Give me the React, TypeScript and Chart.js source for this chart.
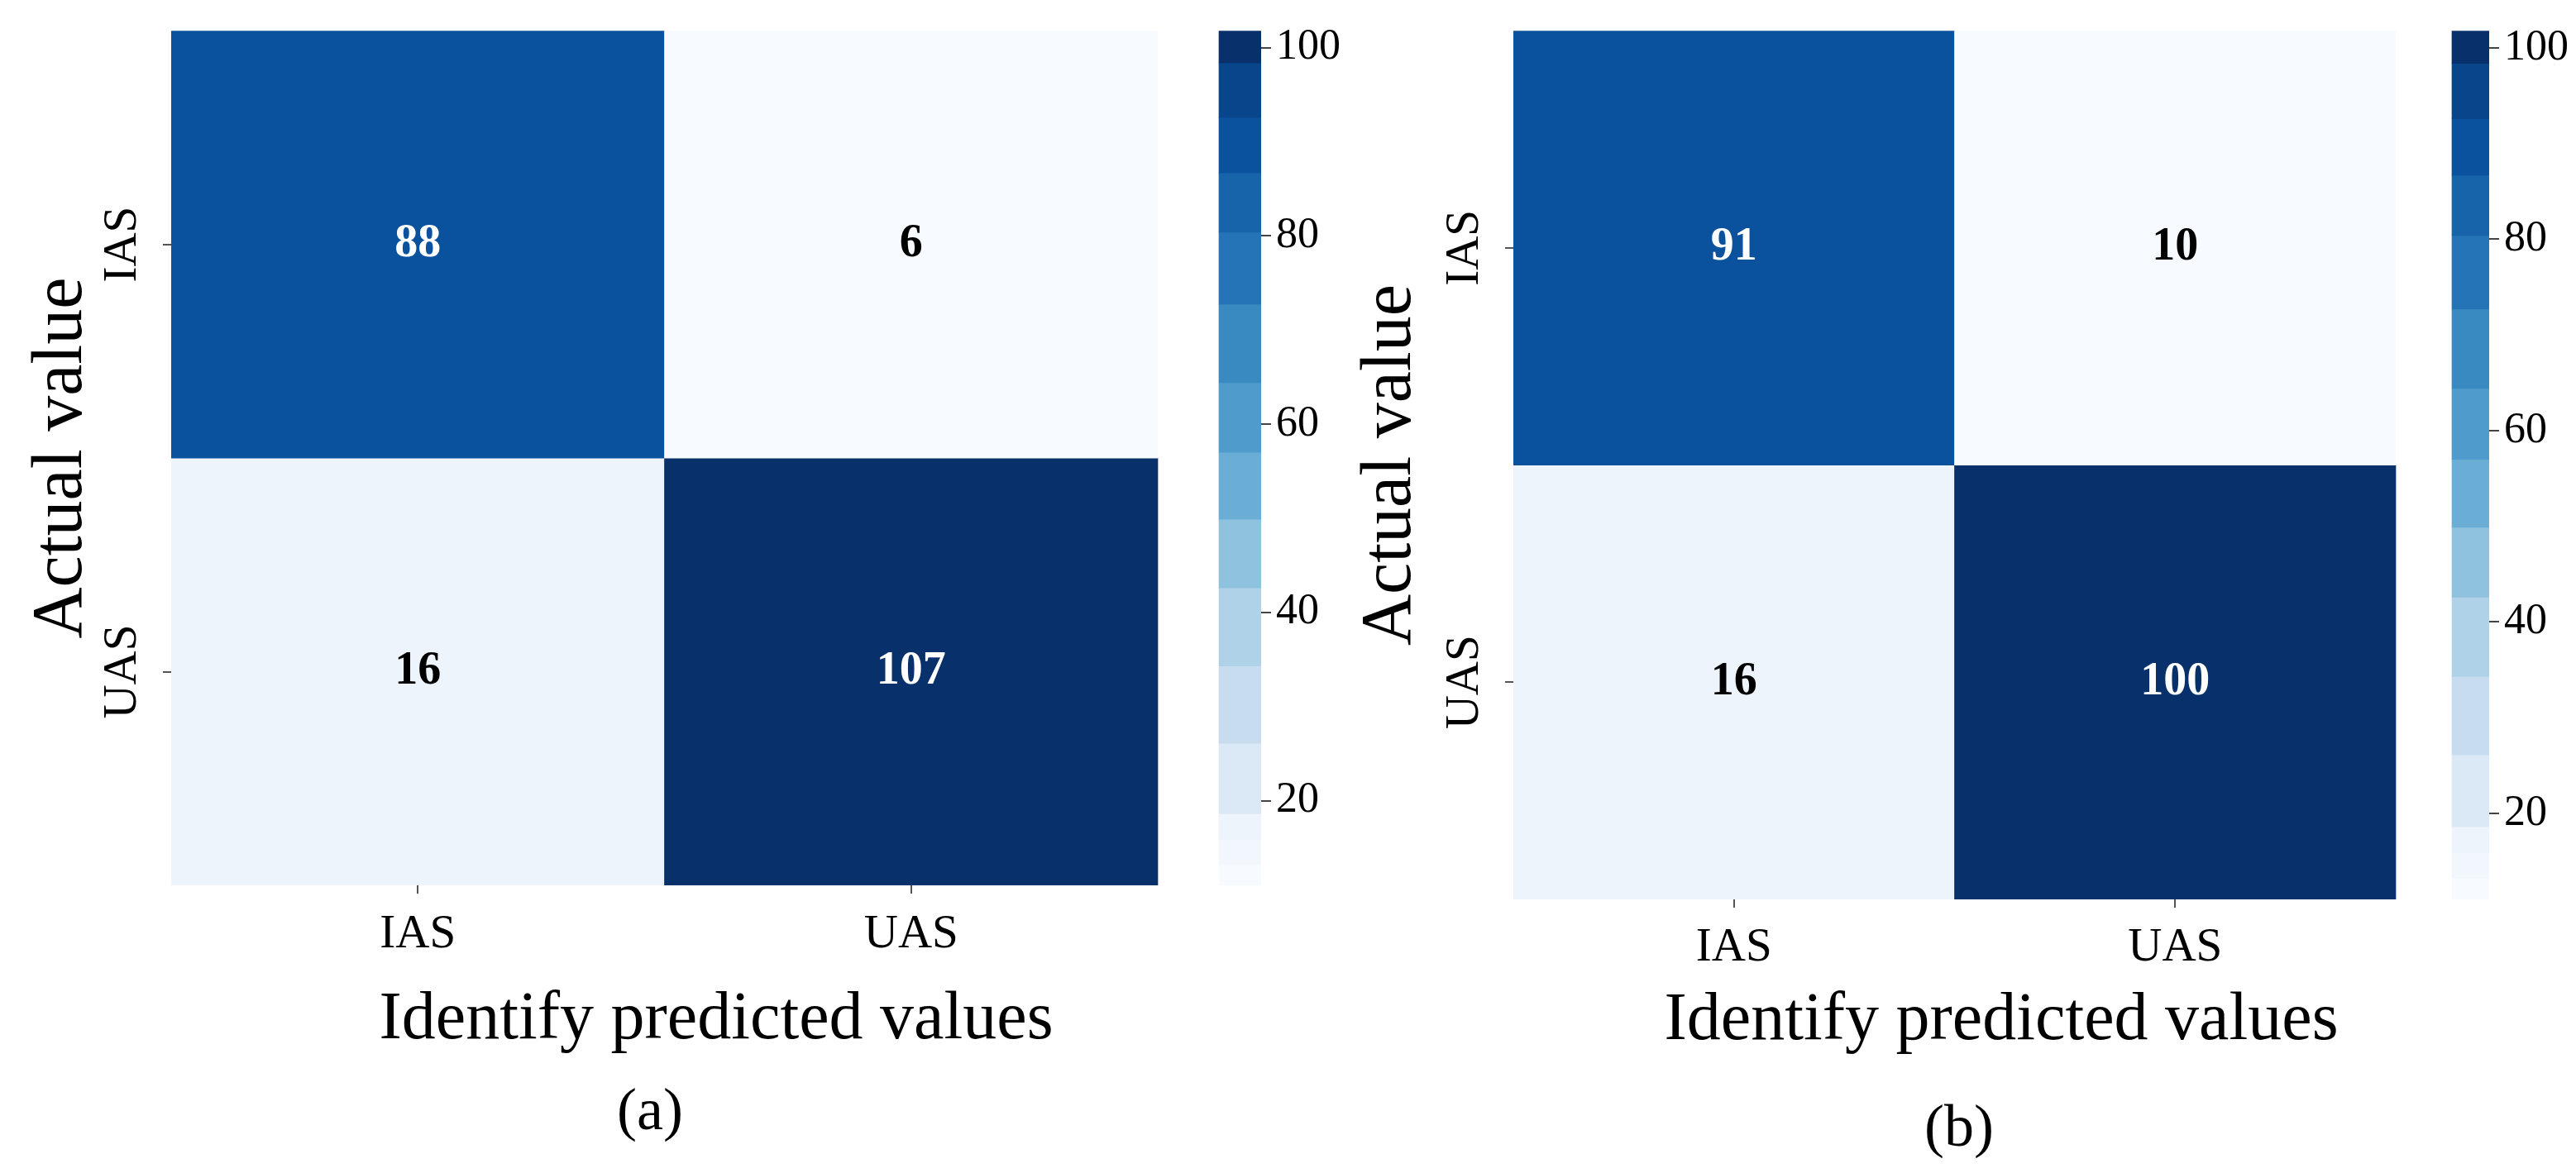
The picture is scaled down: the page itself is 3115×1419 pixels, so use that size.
import React, { useEffect, useRef } from 'react';
import { Chart, registerables } from 'chart.js';

Chart.register(...registerables);

// ---------------- data ----------------
const CLASS_LABELS = ['IAS', 'UAS'];
const MATRIX_A = [
  [88, 6],
  [16, 107],
];
const MATRIX_B = [
  [91, 10],
  [16, 100],
];
const CB_TICKS = [20, 40, 60, 80, 100];
// colour-bar band edges (bottom -> top) and the band colours between them
const CB_EDGES = [11, 13.2, 15.9, 18.6, 26.1, 34.3, 42.6, 49.9, 57.0, 64.4, 72.7, 80.4, 86.7, 92.6, 98.4, 101.8];
const CB_COLORS = [
  '#f7fbff', '#f1f7fd', '#eef4fb', '#dbe9f6', '#c8dcf0', '#b0d2e8', '#8fc2de',
  '#6aaed6', '#4f9bcb', '#3a8ac2', '#2474b7', '#1764ab', '#0a529d', '#08458a', '#08306b',
];
const X_TITLE = 'Identify predicted values';
const Y_TITLE = 'Actual value';
const CAPTION_A = '(a)';
const CAPTION_B = '(b)';

// ---------------- style ----------------
const SERIF = '"Liberation Serif", "Times New Roman", serif';
const TICK_FONT = 57;
const X_TITLE_FONT = 82;
const Y_TITLE_FONT = 86;
const CAPTION_FONT = 72;
const CB_FONT = 52;
const CELL_FONT = 56;
const LH = 1.2;
const H = 1419;

interface PanelLayout {
  left: number;
  width: number;
  areaLeft: number;
  areaRight: number;
  areaTop: number;
  areaBottom: number;
  heatRight: number;
  cbWidth: number;
  yTitlePad: number;
  yTickPad: number;
  xTickPad: number;
  xTitleY: number;
  captionY: number;
}

const LAYOUT_A: PanelLayout = {
  left: -88, width: 1748,
  areaLeft: 207, areaRight: 1525, areaTop: 32, areaBottom: 1071,
  heatRight: 1400, cbWidth: 51,
  yTitlePad: 112, yTickPad: -9, xTickPad: 16,
  xTitleY: 1234, captionY: 1347,
};
const LAYOUT_B: PanelLayout = {
  left: 1623, width: 1492,
  areaLeft: 1830, areaRight: 3010, areaTop: 32, areaBottom: 1088,
  heatRight: 2897, cbWidth: 45,
  yTitlePad: 8, yTickPad: -9, xTickPad: 15,
  xTitleY: 1235, captionY: 1367,
};

function colorFor(v: number): string {
  for (let i = 0; i < CB_COLORS.length; i++) {
    if (v < CB_EDGES[i + 1]) return CB_COLORS[i];
  }
  return CB_COLORS[CB_COLORS.length - 1];
}

function Panel({ matrix, caption, L }: { matrix: number[][]; caption: string; L: PanelLayout }) {
  const ref = useRef<HTMLCanvasElement | null>(null);

  useEffect(() => {
    if (!ref.current) return;
    const areaW = L.areaRight - L.areaLeft;
    const cellW = (L.heatRight - L.areaLeft) / CLASS_LABELS.length;
    const xMax = -0.5 + areaW / cellW;
    const cbX = 1 - L.cbWidth / 2 / areaW;

    const captionLH = CAPTION_FONT * LH;
    const captionPadBottom = H - L.captionY - captionLH / 2;
    const captionTop = H - captionPadBottom - captionLH;
    const xAxisHeight = captionTop - L.areaBottom;
    const xTitlePadBottom = captionTop - L.xTitleY - (X_TITLE_FONT * LH) / 2;

    const heatSets = matrix.map((row, r) => ({
      type: 'bar' as const,
      label: CLASS_LABELS[r],
      data: row.map((v, c) => ({ x: c, y: [r, r + 1] })),
      backgroundColor: row.map((v) => colorFor(v)),
      borderWidth: 0,
      grouped: false,
      barPercentage: 1,
      categoryPercentage: 1,
      xAxisID: 'x',
      yAxisID: 'y',
    }));

    const cbSet = {
      type: 'bar' as const,
      label: 'colorbar',
      data: CB_COLORS.map((_, i) => ({ x: cbX, y: [CB_EDGES[i], CB_EDGES[i + 1]] })),
      backgroundColor: CB_COLORS,
      borderWidth: 0,
      grouped: false,
      barThickness: L.cbWidth,
      xAxisID: 'x2',
      yAxisID: 'cb',
    };

    const cellValues = {
      id: 'cellValues',
      afterDatasetsDraw(chart: any) {
        const ctx = chart.ctx;
        ctx.save();
        ctx.font = `bold ${CELL_FONT}px ${SERIF}`;
        ctx.textAlign = 'center';
        ctx.textBaseline = 'middle';
        matrix.forEach((row, r) => {
          const meta = chart.getDatasetMeta(r);
          row.forEach((v, c) => {
            const el: any = meta.data[c];
            ctx.fillStyle = v > 50 ? '#ffffff' : '#000000';
            ctx.fillText(String(v), el.x, (el.y + el.base) / 2);
          });
        });
        ctx.restore();
      },
    };

    const chart = new Chart(ref.current, {
      type: 'bar',
      data: { datasets: [...heatSets, cbSet] as any },
      plugins: [cellValues],
      options: {
        animation: false,
        responsive: false,
        devicePixelRatio: 1,
        events: [],
        layout: { padding: { top: L.areaTop, left: 0, right: 0, bottom: 0 }, autoPadding: false } as any,
        plugins: {
          legend: { display: false },
          tooltip: { enabled: false },
          title: {
            display: true,
            text: caption,
            position: 'bottom',
            color: '#000',
            font: { family: SERIF, size: CAPTION_FONT, weight: 'normal', lineHeight: LH },
            padding: { top: 0, bottom: captionPadBottom },
          },
        },
        scales: {
          x: {
            type: 'linear',
            position: 'bottom',
            min: -0.5,
            max: xMax,
            offset: false,
            afterBuildTicks: (s: any) => {
              s.ticks = CLASS_LABELS.map((_, i) => ({ value: i }));
            },
            afterFit: (s: any) => {
              s.height = xAxisHeight;
            },
            ticks: {
              autoSkip: false,
              maxRotation: 0,
              minRotation: 0,
              padding: L.xTickPad,
              color: '#000',
              font: { family: SERIF, size: TICK_FONT, lineHeight: LH },
              callback: (v: any) => CLASS_LABELS[Math.round(Number(v))] ?? '',
            },
            grid: { display: true, offset: false, drawOnChartArea: false, drawTicks: true, tickLength: 10, color: '#555', lineWidth: 2 },
            border: { display: false },
            title: {
              display: true,
              text: X_TITLE,
              color: '#000',
              font: { family: SERIF, size: X_TITLE_FONT, lineHeight: LH },
              padding: { top: 0, bottom: xTitlePadBottom },
            },
          },
          x2: {
            type: 'linear',
            position: 'bottom',
            display: false,
            min: 0,
            max: 1,
            offset: false,
            grid: { offset: false },
          },
          y: {
            type: 'linear',
            position: 'left',
            min: 0,
            max: CLASS_LABELS.length,
            reverse: true,
            afterBuildTicks: (s: any) => {
              s.ticks = CLASS_LABELS.map((_, i) => ({ value: i + 0.5 }));
            },
            afterFit: (s: any) => {
              s.width = L.areaLeft - L.left;
            },
            ticks: {
              autoSkip: false,
              minRotation: 90,
              maxRotation: 90,
              crossAlign: 'center',
              padding: L.yTickPad,
              color: '#000',
              font: { family: SERIF, size: TICK_FONT, lineHeight: LH },
              callback: (v: any) => CLASS_LABELS[Math.floor(Number(v))] ?? '',
            },
            grid: { display: true, drawOnChartArea: false, drawTicks: true, tickLength: 10, color: '#555', lineWidth: 2 },
            border: { display: false },
            title: {
              display: true,
              text: Y_TITLE,
              color: '#000',
              font: { family: SERIF, size: Y_TITLE_FONT, lineHeight: LH },
              padding: { top: L.yTitlePad, bottom: 0 },
            },
          },
          cb: {
            type: 'linear',
            position: 'right',
            min: CB_EDGES[0],
            max: CB_EDGES[CB_EDGES.length - 1],
            afterBuildTicks: (s: any) => {
              s.ticks = CB_TICKS.map((v) => ({ value: v }));
            },
            afterFit: (s: any) => {
              s.width = L.left + L.width - L.areaRight;
            },
            ticks: {
              autoSkip: false,
              padding: 6,
              color: '#000',
              font: { family: SERIF, size: CB_FONT, lineHeight: LH },
              callback: (v: any) => String(v),
            },
            grid: { display: true, drawOnChartArea: false, drawTicks: true, tickLength: 12, color: '#444', lineWidth: 2 },
            border: { display: false },
          },
        },
      } as any,
    });
    return () => chart.destroy();
  }, [matrix, caption, L]);

  return (
    <canvas
      ref={ref}
      width={L.width}
      height={H}
      style={{ position: 'absolute', left: L.left, top: 0, width: L.width, height: H }}
    />
  );
}

export default function App() {
  return (
    <div
      style={{
        position: 'absolute',
        left: 0,
        top: 0,
        width: 3115,
        height: H,
        overflow: 'hidden',
        background: '#ffffff',
      }}
    >
      <Panel matrix={MATRIX_A} caption={CAPTION_A} L={LAYOUT_A} />
      <Panel matrix={MATRIX_B} caption={CAPTION_B} L={LAYOUT_B} />
    </div>
  );
}
